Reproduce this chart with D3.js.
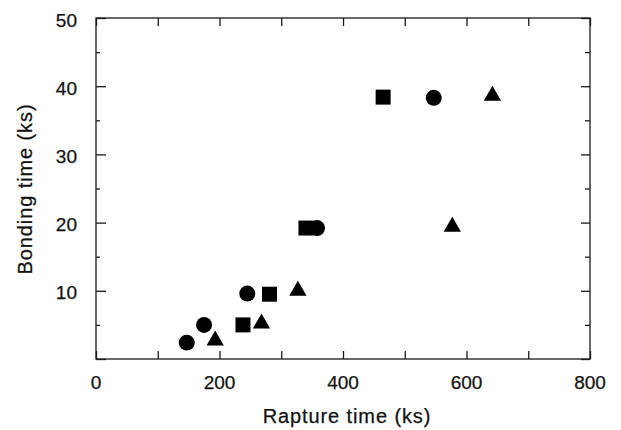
<!DOCTYPE html>
<html>
<head>
<meta charset="utf-8">
<script src="https://cdn.jsdelivr.net/npm/d3@7"></script>
<style>
  body { margin: 0; background: #fff; }
  text { font-family: "Liberation Sans", Arial, sans-serif; fill: #111; stroke: #111; stroke-width: 0.25px; }
</style>
</head>
<body>
<div id="chart"></div>
<script>
// values
const circleX = [147, 175, 245, 358, 547];
const circleY = [2.4, 5.0, 9.6, 19.2, 38.3];
const squareX = [238, 281, 340, 465];
const squareY = [5.0, 9.5, 19.2, 38.4];
const triangleX = [193, 268, 327, 577, 642];
const triangleY = [2.7, 5.2, 10.0, 19.4, 38.6];

const xTickLabels = [0, 200, 400, 600, 800];
const yTickLabels = [10, 20, 30, 40, 50];

const width = 621, height = 430;
const plotLeft = 96, plotRight = 590, plotTop = 18, plotBottom = 359;

const svg = d3.select("#chart").append("svg")
  .attr("width", width).attr("height", height);

const x = d3.scaleLinear().domain([0, 800]).range([plotLeft, plotRight]);
const y = d3.scaleLinear().domain([0, 50]).range([plotBottom, plotTop]);

const lineColor = "#1a1a1a";

// frame
svg.append("rect")
  .attr("x", plotLeft).attr("y", plotTop)
  .attr("width", plotRight - plotLeft).attr("height", plotBottom - plotTop)
  .attr("fill", "none").attr("stroke", lineColor).attr("stroke-width", 1.3);

// inward ticks on all four sides
const xTicks = d3.range(0, 801, 100);
const yMajor = d3.range(0, 51, 10);
const yMinor = d3.range(5, 50, 10);

function styleAxis(g) {
  g.select(".domain").remove();
  g.selectAll(".tick line").attr("stroke", lineColor).attr("stroke-width", 1.3);
  g.selectAll(".tick text").remove();
}

svg.append("g").attr("transform", `translate(0,${plotBottom})`)
  .call(d3.axisBottom(x).tickValues(xTicks).tickSize(-8)).call(styleAxis);
svg.append("g").attr("transform", `translate(0,${plotTop})`)
  .call(d3.axisTop(x).tickValues(xTicks).tickSize(-8)).call(styleAxis);
svg.append("g").attr("transform", `translate(${plotLeft},0)`)
  .call(d3.axisLeft(y).tickValues(yMajor).tickSize(-10)).call(styleAxis);
svg.append("g").attr("transform", `translate(${plotLeft},0)`)
  .call(d3.axisLeft(y).tickValues(yMinor).tickSize(-4)).call(styleAxis);
svg.append("g").attr("transform", `translate(${plotRight},0)`)
  .call(d3.axisRight(y).tickValues(yMajor).tickSize(-9)).call(styleAxis);
svg.append("g").attr("transform", `translate(${plotRight},0)`)
  .call(d3.axisRight(y).tickValues(yMinor).tickSize(-5)).call(styleAxis);

// tick labels
svg.append("g").selectAll("text").data(xTickLabels).enter()
  .append("text")
  .attr("x", d => x(d)).attr("y", 389)
  .attr("text-anchor", "middle")
  .style("font-size", "19px")
  .text(d => d);

svg.append("g").selectAll("text").data(yTickLabels).enter()
  .append("text")
  .attr("x", 77).attr("y", d => y(d) + 2)
  .attr("dy", "0.35em")
  .attr("text-anchor", "end")
  .style("font-size", "19px")
  .text(d => d);

// axis titles
svg.append("text")
  .attr("x", 347).attr("y", 423)
  .attr("text-anchor", "middle")
  .style("font-size", "20px")
  .style("letter-spacing", "0.9px")
  .text("Rapture time (ks)");

svg.append("text")
  .attr("transform", "translate(32,189) rotate(-90)")
  .attr("text-anchor", "middle")
  .style("font-size", "20px")
  .style("letter-spacing", "0.9px")
  .text("Bonding time (ks)");

// markers
const series = [
  { xs: circleX, ys: circleY, type: d3.symbolCircle, size: 200 },
  { xs: squareX, ys: squareY, type: d3.symbolSquare, size: 225 },
  { xs: triangleX, ys: triangleY, type: d3.symbolTriangle, size: 130 }
];

series.forEach(s => {
  svg.append("g").selectAll("path")
    .data(d3.zip(s.xs, s.ys)).enter()
    .append("path")
    .attr("d", d3.symbol().type(s.type).size(s.size))
    .attr("transform", d => `translate(${x(d[0])},${y(d[1])})`)
    .attr("fill", "#000");
});
</script>
</body>
</html>
